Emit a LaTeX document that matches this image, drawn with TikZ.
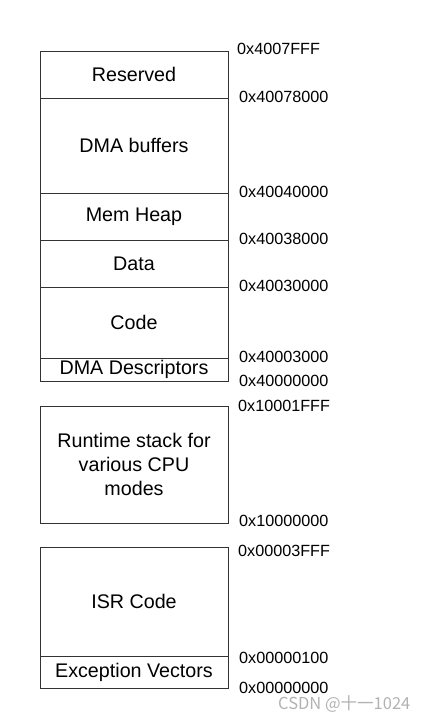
\documentclass[tikz,border=0pt]{standalone}
\usepackage{fontspec}
\setmainfont{Liberation Sans}
\newfontfamily\cjkfont{Noto Sans CJK SC}
\begin{document}
\begin{tikzpicture}[x=1pt,y=-1pt,
  region/.style={draw=black!80, line width=0.9pt, minimum width=188pt, inner sep=0pt, align=center,
    font=\fontsize{19.7}{24}\selectfont},
  addr/.style={anchor=west, inner sep=0pt, font=\fontsize{16.2}{18}\selectfont}]
\useasboundingbox (0,0) rectangle (426,716);
% upper block
\node[region, minimum height=47pt] (res) at (134,74.5) {Reserved};
\node[region, minimum height=95pt] (dmab) at (134,145.5) {DMA buffers};
\node[region, minimum height=47pt] (heap) at (134,216.5) {Mem Heap};
\node[region, minimum height=47pt] (data) at (134,263.5) {Data};
\node[region, minimum height=71pt] (code) at (134,322.5) {Code};
\node[region, minimum height=23pt] (desc) at (134,369.5) {DMA Descriptors};
% stack block
\node[region, minimum height=117pt] (stack) at (134,464.5) {Runtime stack for\\various CPU\\modes};
% vector block
\node[region, minimum height=109pt] (isr) at (134,601.5) {ISR Code};
\node[region, minimum height=32pt] (exc) at (134,672) {Exception Vectors};
% addresses
\node[addr] (a1) at (237,49) {0x4007FFF};
\node[addr] (a2) at (239,97) {0x40078000};
\node[addr] (a3) at (239,192) {0x40040000};
\node[addr] (a4) at (239,239) {0x40038000};
\node[addr] (a5) at (239,286) {0x40030000};
\node[addr] (a6) at (239,357) {0x40003000};
\node[addr] (a7) at (239,381) {0x40000000};
\node[addr] (a8) at (238,406) {0x10001FFF};
\node[addr] (a9) at (239,521) {0x10000000};
\node[addr] (a10) at (238,551) {0x00003FFF};
\node[addr] (a11) at (239,658) {0x00000100};
\node[addr] (a12) at (239,687.5) {0x00000000};
% watermark
\node[anchor=west, inner sep=0pt, text=black!30, font=\cjkfont\fontsize{16.5}{18}\selectfont] (wm) at (278,704) {CSDN @十一1024};
\end{tikzpicture}
\end{document}
